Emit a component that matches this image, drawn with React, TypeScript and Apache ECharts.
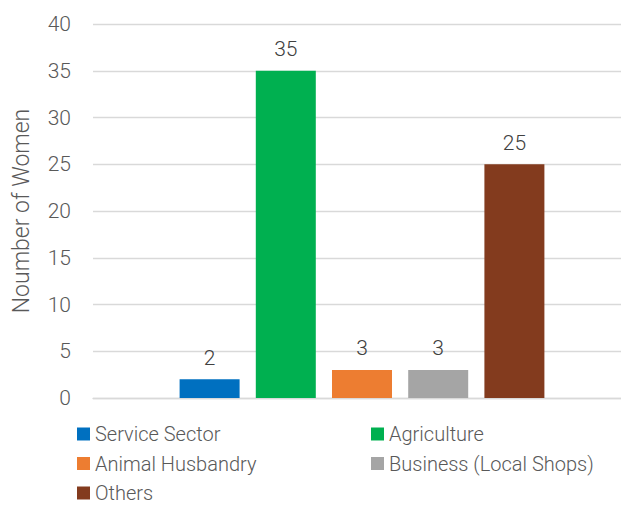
import React, { useEffect, useRef } from "react";
import * as echarts from "echarts";

const categories = [""];
const seriesNames = ["Service Sector", "Agriculture", "Animal Husbandry", "Business (Local Shops)", "Others"];
const seriesValues = [2, 35, 3, 3, 25];
const seriesColors = ["#0070C0", "#00B050", "#ED7D31", "#A5A5A5", "#833B1E"];
const yTicks = { min: 0, max: 40, interval: 5 };

export default function App() {
  const ref = useRef<HTMLDivElement>(null);
  useEffect(() => {
    const chart = echarts.init(ref.current!, null, { renderer: "svg" });
    const font = "Roboto";
    const legendText = { color: "#595959", fontSize: 20, fontFamily: font, fontWeight: 300, lineHeight: 20 };
    chart.setOption({
      animation: false,
      grid: { left: 93, width: 538, top: 24, height: 374, containLabel: false, outerBoundsMode: "none" },
      xAxis: {
        type: "category",
        data: categories,
        axisLine: { show: true, lineStyle: { color: "#d9d9d9", width: 1.3 } },
        axisTick: { show: false },
        axisLabel: { show: false },
      },
      yAxis: {
        type: "value",
        min: yTicks.min,
        max: yTicks.max,
        interval: yTicks.interval,
        name: "Noumber of Women",
        nameLocation: "middle",
        nameGap: 60,
        nameRotate: 90,
        nameTextStyle: { color: "#595959", fontSize: 23, fontFamily: font, fontWeight: 300 },
        axisLine: { show: false },
        axisTick: { show: false },
        axisLabel: { color: "#595959", fontSize: 21, fontFamily: font, fontWeight: 300, margin: 22 },
        splitLine: { lineStyle: { color: "#d9d9d9", width: 1.3 } },
      },
      legend: [
        {
          orient: "vertical",
          left: 77,
          top: 424,
          height: 100,
          padding: 0,
          itemWidth: 13,
          itemHeight: 13,
          itemGap: 9.5,
          icon: "rect",
          data: [seriesNames[0], seriesNames[2], seriesNames[4]],
          textStyle: legendText,
        },
        {
          orient: "vertical",
          left: 371,
          top: 424,
          height: 100,
          padding: 0,
          itemWidth: 13,
          itemHeight: 13,
          itemGap: 9.5,
          icon: "rect",
          data: [seriesNames[1], seriesNames[3]],
          textStyle: legendText,
        },
      ],
      series: seriesNames.map((name, i) => ({
        name,
        type: "bar",
        data: [seriesValues[i]],
        barWidth: 60,
        barGap: "27%",
        itemStyle: { color: seriesColors[i] },
        label: {
          show: true,
          position: "top",
          distance: 11,
          color: "#404040",
          fontSize: 21,
          fontFamily: font,
          fontWeight: 300,
        },
      })),
    });
    return () => chart.dispose();
  }, []);
  return <div ref={ref} style={{ width: 621, height: 506, position: "absolute", left: 0, top: 0 }} />;
}
